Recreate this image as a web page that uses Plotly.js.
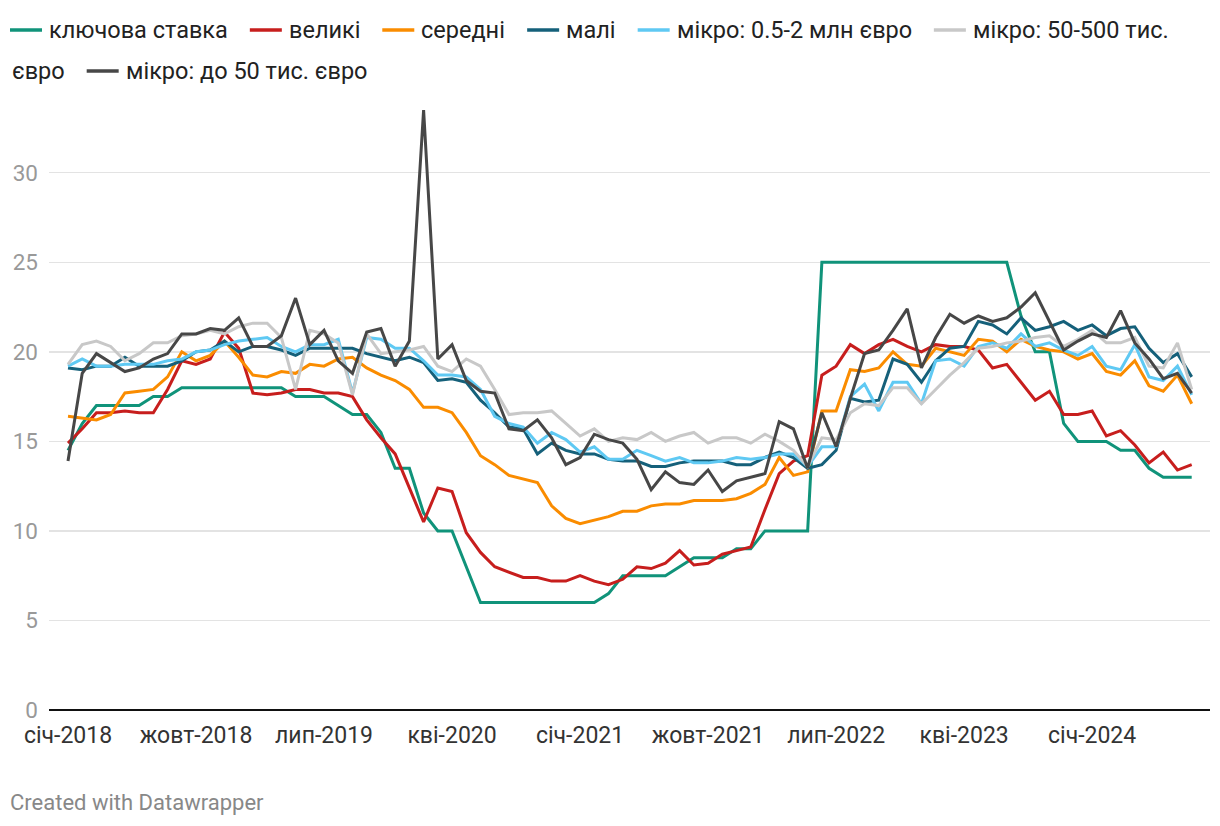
<!DOCTYPE html>
<html>
<head>
<meta charset="utf-8">
<script src="https://cdn.plot.ly/plotly-3.0.1.min.js"></script>
<style>
html,body{margin:0;padding:0;background:#fff;}
#chart{width:1220px;height:826px;}
</style>
</head>
<body>
<div id="chart"></div>
<script>
// ---- data (monthly, Jan 2018 .. Aug 2024) ----
const seriesNames = ["ключова ставка", "великі", "середні", "малі", "мікро: 0.5-2 млн євро", "мікро: 50-500 тис. євро", "мікро: до 50 тис. євро"];
const seriesColors = ["#10937a", "#c71e1d", "#fa8c00", "#15607a", "#5fc9f3", "#c8c8c8", "#474747"];

const keyRate = [14.5,16,17,17,17,17,17.5,17.5,18,18,18,18,18,18,18,18,17.5,17.5,17.5,17,
  16.5,16.5,15.5,13.5,13.5,11,10,10,8,6,6,6,6,6,6,6,6,6,6.5,7.5,
  7.5,7.5,7.5,8,8.5,8.5,8.5,9,9,10,10,10,10,25,25,25,25,25,25,25,
  25,25,25,25,25,25,25,22,20,20,16,15,15,15,14.5,14.5,13.5,13,13,13];
const large = [14.9,15.7,16.6,16.6,16.7,16.6,16.6,17.9,19.5,19.3,19.6,21.1,20.2,17.7,17.6,17.7,17.9,17.9,17.7,17.7,
  17.5,16.2,15.2,14.3,12.4,10.5,12.4,12.2,9.9,8.8,8.0,7.7,7.4,7.4,7.2,7.2,7.5,7.2,7.0,7.3,
  8.0,7.9,8.2,8.9,8.1,8.2,8.7,8.9,9.1,11.2,13.2,13.9,14.2,18.7,19.2,20.4,19.9,20.4,20.7,20.3,
  20.0,20.4,20.3,20.3,20.1,19.1,19.3,18.3,17.3,17.8,16.5,16.5,16.7,15.3,15.6,14.8,13.8,14.4,13.4,13.7];
const medium = [16.4,16.3,16.2,16.5,17.7,17.8,17.9,18.6,20.0,19.5,19.8,20.6,19.7,18.7,18.6,18.9,18.8,19.3,19.2,19.6,
  19.7,19.1,18.7,18.4,17.9,16.9,16.9,16.6,15.5,14.2,13.7,13.1,12.9,12.7,11.4,10.7,10.4,10.6,10.8,11.1,
  11.1,11.4,11.5,11.5,11.7,11.7,11.7,11.8,12.1,12.6,14.1,13.1,13.3,16.7,16.7,19.0,18.9,19.1,20.0,19.3,
  19.2,20.2,20.0,19.8,20.7,20.6,20.0,20.7,20.3,20.1,20.0,19.6,19.9,18.9,18.7,19.5,18.1,17.8,18.7,17.1];
const small = [19.1,19.0,19.2,19.2,19.7,19.2,19.2,19.2,19.5,20.0,20.1,20.6,20.0,20.3,20.3,20.1,19.8,20.2,20.2,20.2,
  20.2,19.9,19.7,19.5,19.7,19.4,18.4,18.5,18.3,17.3,16.6,15.8,15.7,14.3,14.9,14.5,14.3,14.3,14.0,13.9,
  13.9,13.6,13.6,13.8,13.9,13.9,13.9,13.7,13.7,14.1,14.4,14.1,13.5,13.7,14.5,17.4,17.2,17.3,19.6,19.3,
  18.3,19.5,20.2,20.3,21.7,21.5,21.0,21.9,21.2,21.4,21.7,21.2,21.5,20.9,21.3,21.4,20.2,19.4,19.9,18.6];
const microLarge = [19.2,19.6,19.2,19.2,19.3,19.3,19.3,19.5,19.6,20.0,20.1,20.4,20.6,20.7,20.8,20.3,20.0,20.4,20.4,20.7,
  17.7,20.8,20.7,20.2,20.2,19.5,18.7,18.7,18.6,17.9,16.4,16.0,15.8,14.9,15.5,15.1,14.4,14.7,14.0,14.0,
  14.5,14.2,13.9,14.1,13.8,13.8,13.9,14.1,14.0,14.1,14.3,14.3,13.6,14.7,14.7,17.5,18.2,16.7,18.3,18.3,
  17.1,19.5,19.6,19.2,20.3,20.5,20.2,21.0,20.3,20.5,20.1,19.8,20.3,19.2,19.0,20.4,18.6,18.4,19.2,17.6];
const microMid = [19.3,20.4,20.6,20.3,19.5,19.9,20.5,20.5,20.9,21.0,21.2,21.0,21.4,21.6,21.6,20.8,17.9,21.2,21.0,20.5,
  17.6,21.0,19.9,20.0,20.1,20.3,19.2,18.9,19.6,19.2,17.9,16.5,16.6,16.6,16.7,16.0,15.3,15.7,15.0,15.2,
  15.1,15.5,15.0,15.3,15.5,14.9,15.2,15.2,14.9,15.4,15.0,14.5,13.6,15.2,15.1,16.6,17.1,17.0,18.0,18.0,
  17.1,17.9,18.7,19.4,20.2,20.3,20.5,20.6,20.8,20.9,20.3,20.7,21.2,20.5,20.5,20.8,19.2,19.1,20.5,17.9];
const microSmall = [13.9,18.8,19.9,19.4,18.9,19.1,19.6,19.9,21.0,21.0,21.3,21.2,21.9,20.3,20.3,20.9,23.0,20.4,21.2,19.5,
  18.8,21.1,21.3,19.2,20.6,33.5,19.6,20.4,18.4,17.8,17.7,15.7,15.6,16.2,15.2,13.7,14.1,15.4,15.1,14.9,
  14.0,12.3,13.3,12.7,12.6,13.4,12.2,12.8,13.0,13.2,16.1,15.7,13.5,16.6,14.7,17.4,19.9,20.1,21.2,22.4,
  19.1,20.8,22.1,21.6,22.0,21.7,21.9,22.5,23.3,21.7,20.1,20.6,21.0,20.8,22.3,20.5,19.6,18.5,18.8,17.7];

const xTickVals = [0, 9, 18, 27, 36, 45, 54, 63, 72];
const xTickText = ["січ-2018", "жовт-2018", "лип-2019", "кві-2020", "січ-2021", "жовт-2021", "лип-2022", "кві-2023", "січ-2024"];
const yTickVals = [0, 5, 10, 15, 20, 25, 30];
const creditText = "Created with Datawrapper";

// ---- layout geometry ----
const W = 1220, H = 826;
const M = {l: 49, r: 10, t: 100, b: 107};
const PW = W - M.l - M.r, PH = H - M.t - M.b;
const px2x = p => (p - M.l) / PW;
const py2y = p => 1 - (p - M.t) / PH;

const allSeries = [keyRate, large, medium, small, microLarge, microMid, microSmall];
const traces = allSeries.map((vals, k) => ({
  type: "scatter", mode: "lines",
  x: vals.map((_, i) => i), y: vals,
  name: seriesNames[k],
  line: {color: seriesColors[k], width: 3},
  hoverinfo: "skip", showlegend: false
}));

// ---- custom legend (wrapping like the original) ----
const FONT = "Roboto, 'Open Sans', sans-serif";
const LEG_SIZE = 23.5;
const cv = document.createElement("canvas").getContext("2d");
cv.font = LEG_SIZE + "px Roboto";
const tw = s => cv.measureText(s).width;
const rowsY = [30, 71, 112];
const annotations = [], shapes = [];
const maxX = 1212;
let cx = 10, row = 0;
seriesNames.forEach((name, k) => {
  const words = name.split(" ");
  if (cx + 39 + tw(words[0]) > maxX && cx > 10) { row++; cx = 10; }
  shapes.push({type: "line", xref: "paper", yref: "paper",
    x0: px2x(cx), x1: px2x(cx + 32), y0: py2y(rowsY[row]), y1: py2y(rowsY[row]),
    line: {color: seriesColors[k], width: 3.5}});
  let start = cx + 39, line = "";
  const emit = (txt, sx, r) => annotations.push({xref: "paper", yref: "paper",
    x: px2x(sx), y: py2y(rowsY[r]), xanchor: "left", yanchor: "middle", showarrow: false,
    text: txt, borderpad: 0, borderwidth: 0,
    font: {family: FONT, size: LEG_SIZE, color: "#222"}});
  words.forEach(w => {
    const cand = line ? line + " " + w : w;
    if (start + tw(cand) > maxX && line) { emit(line, start, row); row++; start = 12; line = w; }
    else line = cand;
  });
  emit(line, start, row);
  cx = start + tw(line) + 22;
});

annotations.push({xref: "paper", yref: "paper", x: px2x(10), y: py2y(802),
  xanchor: "left", yanchor: "middle", showarrow: false, text: creditText,
  borderpad: 0, borderwidth: 0, font: {family: FONT, size: 22, color: "#888"}});

const pxPerMonth = 14.224;
const layout = {
  width: W, height: H,
  margin: M,
  paper_bgcolor: "#fff", plot_bgcolor: "#fff",
  showlegend: false,
  font: {family: FONT},
  xaxis: {
    range: [-(68 - M.l) / pxPerMonth, 79 + (M.l + PW - 1191.7) / pxPerMonth],
    tickmode: "array", tickvals: xTickVals, ticktext: xTickText,
    showgrid: false, zeroline: false, showline: false,
    ticks: "", 
    tickfont: {family: FONT, size: 23, color: "#333"}
  },
  yaxis: {
    range: [-0.5, 34.06],
    tickmode: "array", tickvals: yTickVals, ticktext: yTickVals.map(String),
    showgrid: true, gridcolor: "#e3e3e3", gridwidth: 1.5,
    zeroline: true, zerolinecolor: "#111", zerolinewidth: 2,
    showline: false, ticks: "", ticklabelstandoff: 10,
    tickfont: {family: FONT, size: 22.5, color: "#999"}
  },
  annotations: annotations,
  shapes: shapes
};

Plotly.newPlot("chart", traces, layout, {displayModeBar: false, staticPlot: true});
</script>
</body>
</html>
